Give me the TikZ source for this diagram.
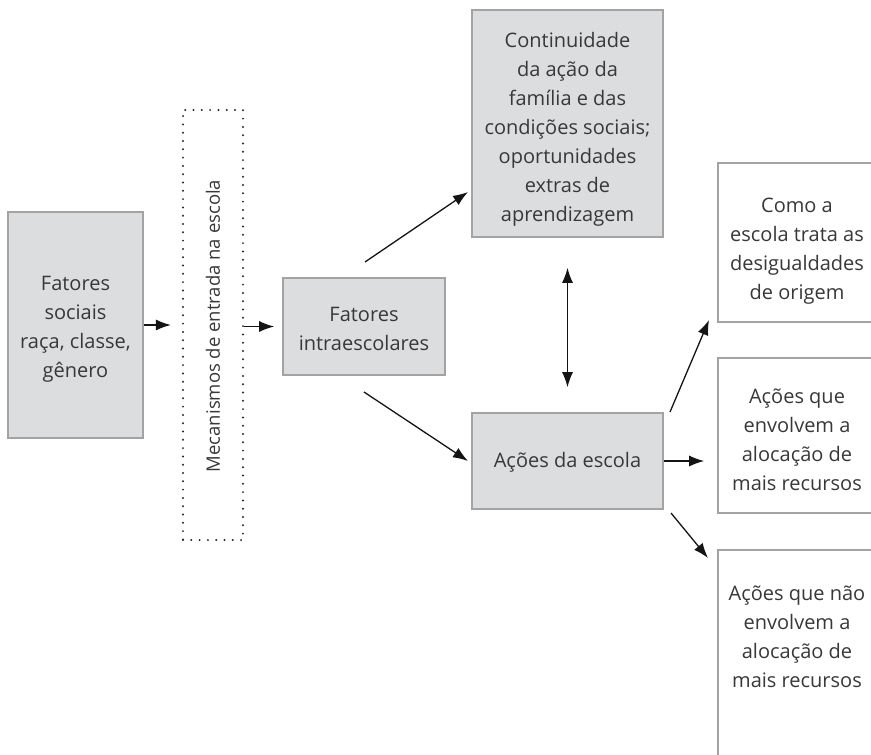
\documentclass[tikz,border=0pt]{standalone}
\usepackage{fontspec}
\setmainfont{Open Sans}
\usetikzlibrary{arrows.meta}
\definecolor{boxfill}{HTML}{DCDDDF}
\definecolor{boxline}{HTML}{A3A3A3}
\definecolor{txt}{HTML}{383838}
\tikzset{
  gbox/.style={draw=boxline, line width=1.6pt, fill=boxfill, inner sep=0pt},
  wbox/.style={draw=boxline, line width=1.6pt, fill=white, inner sep=0pt},
  lbl/.style={align=center, text=txt, inner sep=0pt},
  arr/.style={-{Latex[length=15pt,width=11pt]}, line width=1.3pt, draw=black!92},
  darr/.style={{Latex[length=15pt,width=11pt]}-{Latex[length=15pt,width=11pt]}, line width=1.3pt, draw=black!92},
  dotbox/.style={draw=black!85, line width=2.2pt, line cap=round, dash pattern=on 0pt off 8.3pt, inner sep=0pt}
}
\begin{document}
\begin{tikzpicture}[x=1pt, y=-1pt, font=\fontsize{20}{29}\selectfont]
\useasboundingbox (0,0) rectangle (871,755);
\clip (0,0) rectangle (871,755);
% boxes
\node[gbox, minimum width=135pt, minimum height=226pt] (fs) at (75.5,325) {};
\node[lbl] (fstxt) at (75.5,329) {Fatores\\sociais\\raça, classe,\\gênero};
\node[dotbox, minimum width=60pt, minimum height=430pt] (mec) at (213,325) {};
\node[lbl, rotate=90] (mectxt) at (213,326) {\fontsize{18.5}{28}\selectfont Mecanismos de entrada na escola};
\node[gbox, minimum width=162pt, minimum height=97pt] (fi) at (364,326.5) {};
\node[lbl] (fitxt) at (364,328.5) {Fatores\\intraescolares};
\node[gbox, minimum width=191pt, minimum height=227pt] (cont) at (567.5,123.5) {};
\node[lbl] (conttxt) at (567.5,129) {Continuidade\\da ação da\\família e das\\condições sociais;\\oportunidades\\extras de\\aprendizagem};
\node[gbox, minimum width=191pt, minimum height=96pt] (acoes) at (567.5,461) {};
\node[lbl] (acoestxt) at (567.5,462) {Ações da escola};
\node[wbox, minimum width=158pt, minimum height=159pt] (b1) at (797,242.5) {};
\node[lbl] (b1txt) at (797,251) {Como a\\escola trata as\\desigualdades\\de origem};
\node[wbox, minimum width=158pt, minimum height=155pt] (b2) at (797,435.5) {};
\node[lbl] (b2txt) at (797,440) {Ações que\\envolvem a\\alocação de\\mais recursos};
\node[wbox, minimum width=158pt, minimum height=240pt] (b3) at (797,670) {};
\node[lbl] (b3txt) at (797,637) {Ações que não\\envolvem a\\alocação de\\mais recursos};
% free arrow ends
\coordinate (u1) at (365,262);
\coordinate (u2) at (468,192);
\coordinate (d1) at (364,392);
\coordinate (d2) at (468,461);
\coordinate (r1) at (670,412);
\coordinate (r2) at (709,320);
\coordinate (s1) at (671,513);
\coordinate (s2) at (708,558);
% connectors
\draw[arr, shorten >=11pt] (fs.east) -- (fs.east -| mec.west);
\draw[arr, shorten >=8pt] (mec.east |- fi.west) -- (fi.west);
\draw[arr] (u1) -- (u2);
\draw[arr] (d1) -- (d2);
\draw[darr, shorten <=30pt, shorten >=25pt] (cont.south) -- (acoes.north);
\draw[arr, shorten >=13pt] (acoes.east) -- (acoes.east -| b2.west);
\draw[arr] (r1) -- (r2);
\draw[arr] (s1) -- (s2);
\end{tikzpicture}
\end{document}
